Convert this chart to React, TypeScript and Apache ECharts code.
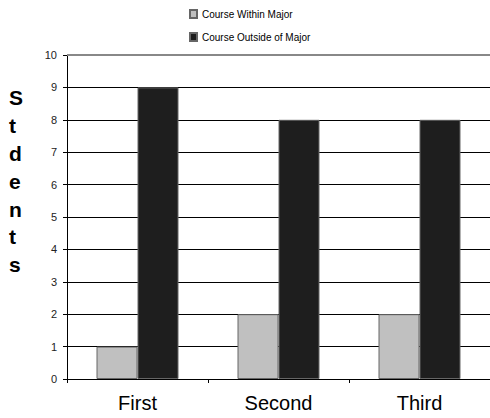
import React, { useEffect, useRef } from "react";
import * as echarts from "echarts";

const categories = ["First", "Second", "Third"];
const withinMajor = [1, 2, 2];
const outsideMajor = [9, 8, 8];
const seriesNames = ["Course Within Major", "Course Outside of Major"];
const yTitle = "S\nt\nd\ne\nn\nt\ns";

export default function App() {
  const ref = useRef<HTMLDivElement>(null);
  useEffect(() => {
    if (!ref.current) return;
    const chart = echarts.init(ref.current, null, { renderer: "svg" });
    const narrow = "'Liberation Sans Narrow', 'Arial Narrow', 'Liberation Sans', Arial, sans-serif";
    chart.setOption({
      animation: false,
      backgroundColor: "#ffffff",
      legend: {
        orient: "vertical",
        left: 184,
        top: 4,
        itemWidth: 7,
        itemHeight: 8,
        itemGap: 13,
        icon: "rect",
        textStyle: { fontFamily: narrow, fontSize: 10, color: "#000" },
        data: seriesNames,
      },
      grid: { left: 67, right: -3, top: 55, bottom: 39 },
      xAxis: {
        type: "category",
        data: categories,
        axisLine: { lineStyle: { color: "#000", width: 1 } },
        axisTick: { show: true, length: 4, lineStyle: { color: "#000" } },
        axisLabel: { fontFamily: narrow, fontSize: 20, color: "#000", margin: 14 },
      },
      yAxis: {
        type: "value",
        min: 0,
        max: 10,
        interval: 1,
        axisLine: { show: true, lineStyle: { color: "#000", width: 1 } },
        axisTick: { show: true, length: 4, lineStyle: { color: "#000" } },
        axisLabel: { fontFamily: "Arial, 'Liberation Sans', sans-serif", fontSize: 11, color: "#222", margin: 10 },
        splitLine: { show: true, lineStyle: { color: "#000", width: 1 } },
      },
      graphic: [
        {
          type: "text",
          left: 9,
          top: 84,
          style: {
            text: yTitle,
            fontFamily: "Arial, 'Liberation Sans', sans-serif",
            fontWeight: "bold",
            fontSize: 21,
            lineHeight: 27.8,
            fill: "#000",
            align: "center",
          },
        },
      ],
      series: [
        {
          name: seriesNames[0],
          type: "bar",
          data: withinMajor,
          barWidth: 41,
          barGap: "0%",
          itemStyle: { color: "#c0c0c0", borderColor: "#666", borderWidth: 1 },
          markLine: {
            silent: true,
            symbol: "none",
            label: { show: false },
            lineStyle: { color: "#888", width: 2, type: "solid" },
            data: [{ yAxis: 10 }],
          },
        },
        {
          name: seriesNames[1],
          type: "bar",
          data: outsideMajor,
          barWidth: 41,
          barGap: "0%",
          itemStyle: { color: "#1e1e1e", borderColor: "#666", borderWidth: 1 },
        },
      ],
    });
    return () => chart.dispose();
  }, []);
  return (
    <div
      ref={ref}
      style={{ position: "fixed", left: 0, top: 0, width: 490, height: 418 }}
    />
  );
}
